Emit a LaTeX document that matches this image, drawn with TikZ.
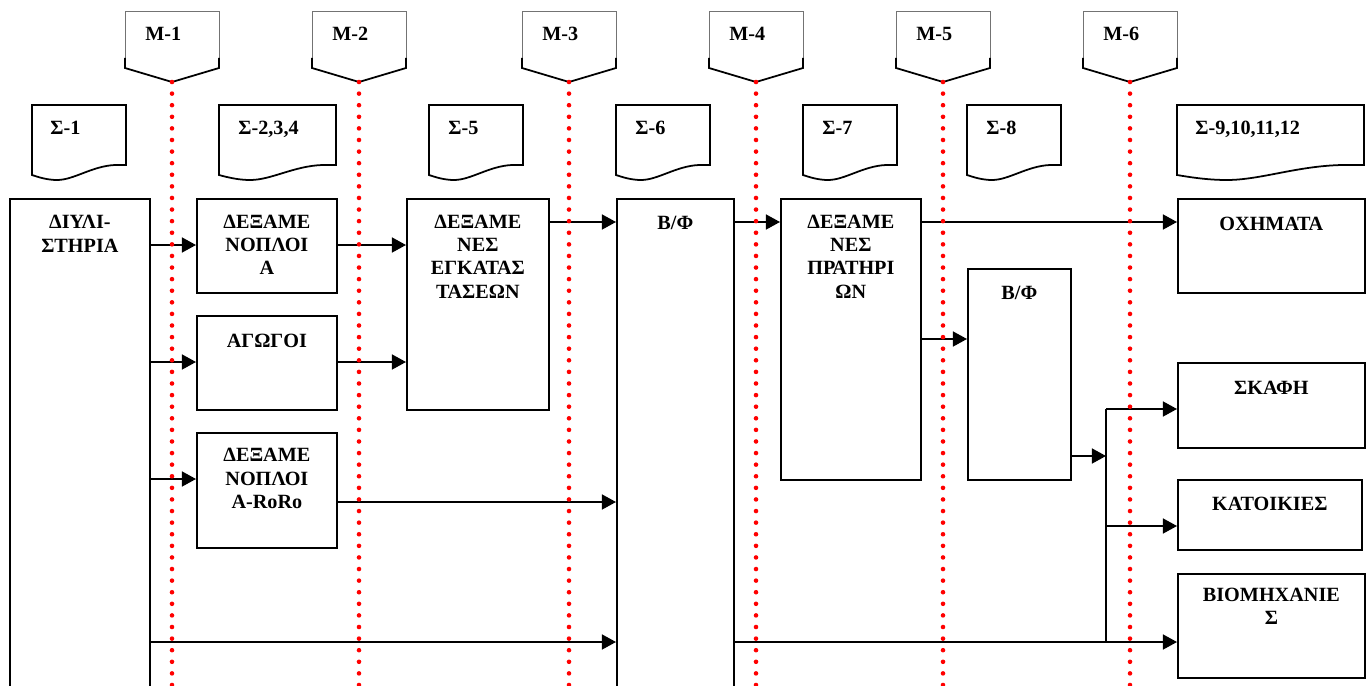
\documentclass[tikz,border=0pt]{standalone}
\usepackage{fontspec}
\setmainfont{Liberation Serif}
\usepackage{tikz}
\usetikzlibrary{arrows.meta, positioning, calc}
\definecolor{guidered}{HTML}{FF0000}

\begin{document}
\begin{tikzpicture}[x=0.02cm, y=-0.02cm,
    box/.style={draw, line width=1pt, anchor=north west, inner sep=0pt},
    txt/.style={inner sep=0pt, align=center, font=\bfseries\fontsize{11.5}{13.3}\selectfont,
                execute at begin node=\strut},
    tag/.style={anchor=base west, inner sep=0pt, font=\bfseries\fontsize{11.5}{13.3}\selectfont},
    arr/.style={-{Triangle[length=8pt, width=8.5pt]}, line width=1pt},
    guide/.style={guidered, line width=2.6pt, line cap=round, dash pattern=on 0pt off 6.6pt},
    sheet/.pic={\draw[line width=1pt] (0,0) -- (94,0) -- (94,60) -- (83,60)
        .. controls (60,61) and (42,75) .. (25,75) .. controls (15,75) and (6,72) .. (0,70) -- cycle;},
    mflag/.pic={\draw[black!55, line width=0.5pt] (0,47) -- (0,0) -- (94,0) -- (94,47);
        \draw[line width=1pt] (0,47) -- (0,57) -- (47,71) -- (94,57) -- (94,47);},
]
    \useasboundingbox (0,0) rectangle (1372,686);

    % milestones
    \pic at (125,11) {mflag}; \coordinate (m1) at (172,82); \node[tag] (m1T) at (145,41) {M-1};
    \pic at (312,11) {mflag}; \coordinate (m2) at (359,82); \node[tag] (m2T) at (332,41) {M-2};
    \pic at (522,11) {mflag}; \coordinate (m3) at (569,82); \node[tag] (m3T) at (542,41) {M-3};
    \pic at (709,11) {mflag}; \coordinate (m4) at (756,82); \node[tag] (m4T) at (729,41) {M-4};
    \pic at (896,11) {mflag}; \coordinate (m5) at (943,82); \node[tag] (m5T) at (916,41) {M-5};
    \pic at (1083,11) {mflag}; \coordinate (m6) at (1130,82); \node[tag] (m6T) at (1103,41) {M-6};

    % documents
    \pic at (32,105) {sheet};                 \node[tag] (s1) at (50,134) {Σ-1};
    \pic[xscale=1.245] at (219,105) {sheet};  \node[tag] (s2) at (238,134) {Σ-2,3,4};
    \pic at (429,105) {sheet};                \node[tag] (s5) at (448,134) {Σ-5};
    \pic at (616,105) {sheet};                \node[tag] (s6) at (635,134) {Σ-6};
    \pic at (803,105) {sheet};                \node[tag] (s7) at (822,134) {Σ-7};
    \pic at (967,105) {sheet};                \node[tag] (s8) at (986,134) {Σ-8};
    \pic[xscale=1.99] at (1177,105) {sheet};  \node[tag] (s9) at (1195,134) {Σ-9,10,11,12};

    % boxes
    \node[box, minimum width=2.8cm, minimum height=10.6cm] (dist) at (9,198) {};
    \node[txt, below=0.34cm of dist.north] (distT) {ΔΙΥΛΙ-\\ΣΤΗΡΙΑ};
    \node[box, minimum width=2.8cm, minimum height=1.88cm] (tank) at (196,198) {};
    \node[txt, below=0.33cm of tank.north] (tankT) {ΔΕΞΑΜΕ\\ΝΟΠΛΟΙ\\Α};
    \node[box, minimum width=2.8cm, minimum height=1.88cm] (pipes) at (196,315) {};
    \node[txt, below=0.32cm of pipes.north] (pipesT) {ΑΓΩΓΟΙ};
    \node[box, minimum width=2.8cm, minimum height=2.3cm] (roro) at (196,432) {};
    \node[txt, below=0.32cm of roro.north] (roroT) {ΔΕΞΑΜΕ\\ΝΟΠΛΟΙ\\Α-RoRo};
    \node[box, minimum width=2.84cm, minimum height=4.22cm] (plant) at (406,198) {};
    \node[txt, below=0.33cm of plant.north] (plantT) {ΔΕΞΑΜΕ\\ΝΕΣ\\ΕΓΚΑΤΑΣ\\ΤΑΣΕΩΝ};
    \node[box, minimum width=2.34cm, minimum height=10.6cm] (bf1) at (616,198) {};
    \node[txt, below=0.30cm of bf1.north] (bf1T) {Β/Φ};
    \node[box, minimum width=2.8cm, minimum height=5.62cm] (stations) at (780,198) {};
    \node[txt, below=0.33cm of stations.north] (stationsT) {ΔΕΞΑΜΕ\\ΝΕΣ\\ΠΡΑΤΗΡΙ\\ΩΝ};
    \node[box, minimum width=2.06cm, minimum height=4.22cm] (bf2) at (967,268) {};
    \node[txt, below=0.30cm of bf2.north] (bf2T) {Β/Φ};
    \node[box, minimum width=3.74cm, minimum height=1.88cm] (cars) at (1177,198) {};
    \node[txt, below=0.31cm of cars.north] (carsT) {ΟΧΗΜΑΤΑ};
    \node[box, minimum width=3.74cm, minimum height=1.7cm] (ships) at (1177,362) {};
    \node[txt, below=0.31cm of ships.north] (shipsT) {ΣΚΑΦΗ};
    \node[box, minimum width=3.68cm, minimum height=1.4cm] (houses) at (1177,479) {};
    \node[txt, below=0.29cm of houses.north] (housesT) {ΚΑΤΟΙΚΙΕΣ};
    \node[box, minimum width=3.74cm, minimum height=2.08cm] (industry) at (1177,573) {};
    \node[txt, below=0.29cm of industry.north] (industryT) {ΒΙΟΜΗΧΑΝΙΕ\\Σ};

    % flows
    \draw[arr] (dist.east |- 0,245) -- (tank.west |- 0,245);
    \draw[arr] (tank.east |- 0,245) -- (plant.west |- 0,245);
    \draw[arr] (dist.east |- 0,362) -- (pipes.west |- 0,362);
    \draw[arr] (pipes.east |- 0,362) -- (plant.west |- 0,362);
    \draw[arr] (dist.east |- 0,479) -- (roro.west |- 0,479);
    \draw[arr] (roro.east |- 0,502) -- (bf1.west |- 0,502);
    \draw[arr] (dist.east |- 0,642) -- (bf1.west |- 0,642);
    \draw[arr] (plant.east |- 0,222) -- (bf1.west |- 0,222);
    \draw[arr] (bf1.east |- 0,222) -- (stations.west |- 0,222);
    \draw[arr] (stations.east |- 0,222) -- (cars.west |- 0,222);
    \draw[arr] (stations.east |- 0,339) -- (bf2.west |- 0,339);

    % distribution
    \coordinate (jtop) at (1106,409);
    \coordinate (jbot) at (1106,642);
    \draw[arr] (bf2.east |- 0,456) -- (jtop |- 0,456);
    \draw[line width=1pt] (jtop) -- (jbot);
    \draw[arr] (jtop) -- (ships.west |- jtop);
    \draw[arr] (jtop |- 0,526) -- (houses.west |- 0,526);
    \draw[arr] (bf1.east |- jbot) -- (industry.west |- jbot);

    % milestone guides
    \foreach \m in {m1,m2,m3,m4,m5,m6}
        \draw[guide] (\m) -- (\m |- 0,690);
\end{tikzpicture}
\end{document}
